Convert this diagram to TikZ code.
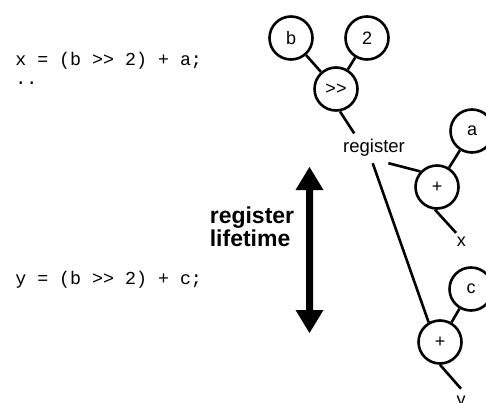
\documentclass[tikz,border=0pt]{standalone}
\usepackage{fontspec}
\setmainfont{Liberation Sans}
\newfontfamily\codefont{Liberation Mono}
\begin{document}
\begin{tikzpicture}[x=1pt, y=-1pt, line width=2.6pt,
  op/.style={circle, draw, minimum size=43pt, inner sep=0pt,
             font=\fontsize{18}{20}\selectfont},
  lbl/.style={font=\fontsize{18}{20}\selectfont, inner sep=3pt, anchor=base},
  reglbl/.style={font=\fontsize{18.5}{20}\selectfont, inner sep=5pt,
                 text height=13.3pt, text depth=3.9pt, anchor=base},
  code/.style={font=\codefont\fontsize{18.3}{20}\selectfont,
               anchor=base west, inner sep=0pt},
  note/.style={font=\bfseries\fontsize{23}{23}\selectfont, align=left,
               inner sep=0pt}]
  % canvas
  \path[fill=white, use as bounding box] (0,0) rectangle (486,403);

  % source lines
  \node[code] (l1) at (14,65.5) {x = (b >{}> 2) + a;};
  \node[code] (l2) at (14,85) {..};
  \node[code] (l3) at (14,284.5) {y = (b >{}> 2) + c;};

  % lifetime arrow and its caption
  \fill (309.5,167) -- (323.5,190) -- (313,190) -- (313,310) -- (323.5,310)
        -- (309.5,333) -- (295.5,310) -- (306,310) -- (306,190) -- (295.5,190)
        -- cycle;
  \node[note, anchor=base west] (life) at (208.5,246.7) {register\\lifetime};

  % expression trees
  \node[op] (b) at (291,38) {b};
  \node[op] (two) at (367,38) {2};
  \node[op] (gt) at (336,89) {>{}>};
  \node[reglbl] (reg) at (374,153) {register};
  \node[op] (a) at (472,131) {a};
  \node[op] (plus1) at (437,187) {+};
  \node[lbl] (xl) at (461.3,246.7) {x};
  \node[op] (c) at (471,289) {c};
  \node[op] (plus2) at (440,342) {+};
  \node[lbl, text height=12pt] (yl) at (461,405) {y};

  \draw (b) -- (gt);
  \draw (two) -- (gt);
  \draw (gt.-80) -- (reg.143);
  \draw (reg.-46) -- (plus1.137);
  \draw (reg.-95) -- (plus2.120);
  \draw (a) -- (plus1);
  \draw (c) -- (plus2);
  \draw (plus1.-95) -- (xl.120);
  \draw (plus2.south) -- (yl.north);
\end{tikzpicture}
\end{document}
